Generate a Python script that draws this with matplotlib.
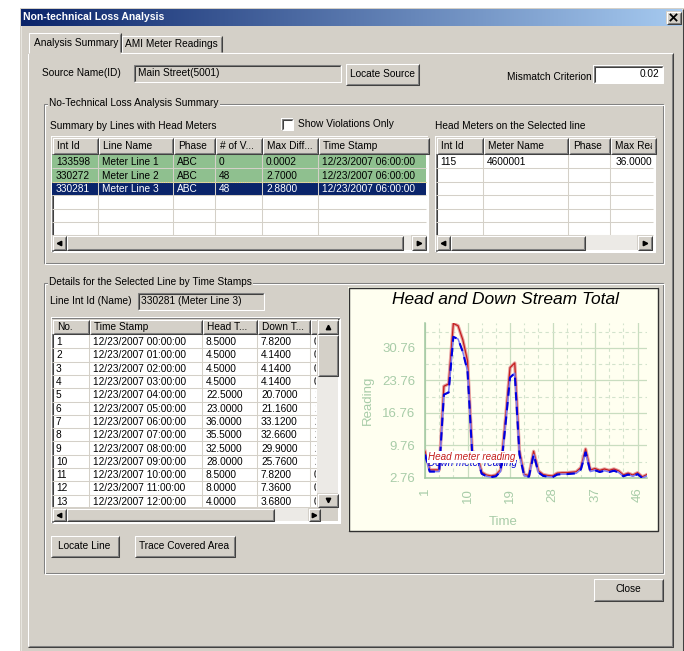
import numpy as np
import matplotlib.pyplot as plt
from matplotlib.patches import Rectangle
from matplotlib.colors import LinearSegmentedColormap

plt.rcParams['font.family'] = ['Liberation Sans', 'DejaVu Sans']

# --- summary by lines with head meters ---
summary_cols = ['Int Id', 'Line Name', 'Phase', '# of V...', 'Max Diff...', 'Time Stamp']
line_ids = ['133598', '330272', '330281']
line_names = ['Meter Line 1', 'Meter Line 2', 'Meter Line 3']
line_phase = ['ABC', 'ABC', 'ABC']
line_violations = [0, 48, 48]
line_max_diff = [0.0002, 2.7, 2.88]
line_stamp = ['12/23/2007 06:00:00', '12/23/2007 06:00:00', '12/23/2007 06:00:00']

# --- head meters on the selected line ---
meter_cols = ['Int Id', 'Meter Name', 'Phase', 'Max Reading']
meter_rows = [['115', '4600001', '', '36.0000']]

# --- hourly totals for the selected line (48 readings) ---
detail_cols = ['No.', 'Time Stamp', 'Head T...', 'Down T...', 'Difference']
head_total = [8.5, 4.5, 4.5, 4.5, 22.5, 23.0, 36.0, 35.5, 32.5, 28.0,
              8.5, 8.0, 4.0, 3.4, 3.2, 3.4, 4.5, 15.0, 26.5, 27.5,
              8.5, 3.5, 3.3, 8.5, 4.3, 3.5, 3.3, 3.2, 3.8, 3.9,
              3.9, 4.0, 4.1, 5.0, 9.0, 4.5, 4.8, 4.4, 4.7, 4.4,
              4.7, 4.3, 3.4, 3.8, 3.4, 3.9, 3.0, 3.5]
down_total = [7.82, 4.14, 4.14, 4.14, 20.70, 21.16, 33.12, 32.66, 29.90, 25.76,
              7.82, 7.36, 3.68, 3.13, 2.94, 3.13, 4.14, 13.80, 24.38, 25.30,
              7.82, 3.22, 3.04, 7.82, 3.96, 3.22, 3.04, 2.94, 3.50, 3.59,
              3.59, 3.68, 3.77, 4.60, 8.28, 4.14, 4.42, 4.05, 4.32, 4.05,
              4.32, 3.96, 3.13, 3.50, 3.13, 3.59, 2.76, 3.22]
x_ticks = [1, 10, 19, 28, 37, 46]
y_ticks = [2.76, 9.76, 16.76, 23.76, 30.76]

FACE, HI, SH, DK = '#D4D0C8', '#FFFFFF', '#808080', '#404040'
FS = 7.3
LW = 0.75

fig = plt.figure(figsize=(6.84, 6.51), dpi=100)
ui = fig.add_axes([0, 0, 1, 1])
ui.set_xlim(0, 684)
ui.set_ylim(651, 0)
ui.axis('off')


def line(xs, ys, c, z=3, **kw):
    ui.plot(xs, ys, color=c, lw=LW, solid_capstyle='butt', zorder=z, **kw)


def fill(x0, y0, x1, y1, c, z=2):
    ui.add_patch(Rectangle((x0, y0), x1 - x0, y1 - y0, fc=c, ec='none', zorder=z))


def txt(x, y, s, **kw):
    kw.setdefault('fontsize', FS)
    kw.setdefault('va', 'center')
    kw.setdefault('zorder', 6)
    return ui.text(x, y, s, **kw)


def clipped(t, x0, y0, x1, y1):
    t.set_clip_path(Rectangle((x0, y0), x1 - x0, y1 - y0, transform=ui.transData))
    t.set_clip_on(True)


def raised(x0, y0, x1, y1, label=None, z=2):
    fill(x0, y0, x1, y1, FACE, z)
    line([x0 + .5, x0 + .5, x1 - .5], [y1 - .5, y0 + .5, y0 + .5], HI, z + .1)
    line([x0 + .5, x1 - .5, x1 - .5], [y1 - .5, y1 - .5, y0 + .5], DK, z + .1)
    line([x0 + 1.5, x1 - 1.5, x1 - 1.5], [y1 - 1.5, y1 - 1.5, y0 + 1.5], SH, z + .1)
    if label:
        txt((x0 + x1) / 2, (y0 + y1) / 2, label, ha='center', zorder=z + .2)


def sunken(x0, y0, x1, y1, fc='white', z=2):
    fill(x0, y0, x1, y1, fc, z)
    line([x0 + .5, x0 + .5, x1 - .5], [y1 - .5, y0 + .5, y0 + .5], SH, z + .1)
    line([x0 + 1.5, x0 + 1.5, x1 - 1.5], [y1 - 1.5, y0 + 1.5, y0 + 1.5], DK, z + .1)
    line([x0 + .5, x1 - .5, x1 - .5], [y1 - .5, y1 - .5, y0 + .5], HI, z + .1)


def etched(x0, y0, x1, y1, label):
    ui.add_patch(Rectangle((x0 + .5, y0 + .5), x1 - x0, y1 - y0, fc='none', ec=SH, lw=LW, zorder=3))
    ui.add_patch(Rectangle((x0 + 1.5, y0 + 1.5), x1 - x0, y1 - y0, fc='none', ec=HI, lw=LW, zorder=3))
    txt(x0 + 6, y0, label, zorder=4, bbox=dict(fc=FACE, ec='none', pad=1))


def arrow_btn(x0, y0, x1, y1, mk, z=4):
    raised(x0, y0, x1, y1, z=z)
    ui.plot((x0 + x1) / 2, (y0 + y1) / 2, marker=mk, ms=3.2, color='black', zorder=z + .3)


def hscroll(x0, x1, y0, y1, thumb_end, track_end):
    arrow_btn(x0, y0, x0 + 14, y1, '<')
    raised(x0 + 14, y0, thumb_end, y1, z=4)
    fill(thumb_end, y0, track_end, y1, '#ECEAE6', 4)
    arrow_btn(track_end, y0, x1, y1, '>')


def grid_table(edges, widths, hy0, hy1, cols, rows, row_h, n_rows, fills, colors):
    # widths: full column widths; the last column may run past the visible edge
    right = edges[-1]
    for i, name in enumerate(cols):
        c0 = edges[i]
        c1 = min(c0 + widths[i], right)
        raised(c0, hy0, c1 + (3 if c1 == right else 0), hy1, z=3)
        t = txt(c0 + 5, (hy0 + hy1) / 2 + .5, name, zorder=3.5)
        clipped(t, c0, hy0, c1 - 1, hy1)
    for r in range(n_rows):
        top = hy1 + 1 + r * row_h
        if r < len(fills) and fills[r]:
            fill(edges[0], top, right, top + row_h, fills[r], 2.5)
        line([edges[0], right], [top + row_h, top + row_h], '#D4D0C8', 2.6)
        if r < len(rows):
            for i, val in enumerate(rows[r]):
                c0 = edges[i]
                t = txt(c0 + 4, top + row_h / 2 + .5, val, color=colors[r], zorder=3.5)
                clipped(t, c0, top, min(c0 + widths[i], right) - 1, top + row_h)
    bottom = hy1 + 1 + n_rows * row_h
    for e in edges[1:-1]:
        line([e - .5, e - .5], [hy1, bottom], '#D4D0C8', 2.6)


# ---- window frame ----
fill(20, 8, 684, 651, FACE, 1)
line([20.5, 20.5, 683], [651, 8.5, 8.5], '#E8E6E0', 1.5)
line([682.5, 682.5], [8.5, 651], DK, 1.5)
grad = np.linspace(0, 1, 256).reshape(1, -1)
cmap = LinearSegmentedColormap.from_list('tb', ['#0A246A', '#A6CAF0'])
ui.imshow(grad, extent=[21, 682, 26, 9.5], cmap=cmap, aspect='auto', zorder=1.6)
txt(23, 17.5, 'Non-technical Loss Analysis', color='white', fontweight='bold', fontsize=7.5)
raised(666, 11, 681, 24, z=2)
ui.plot([670.5, 676.5], [14.5, 20.5], color='black', lw=1.3, zorder=3)
ui.plot([670.5, 676.5], [20.5, 14.5], color='black', lw=1.3, zorder=3)
ui.set_xlim(0, 684)
ui.set_ylim(651, 0)

# ---- tab page ----
line([27.5, 27.5, 673], [646, 52.5, 52.5], HI, 2)
line([27.5, 672.5, 672.5], [646.5, 646.5, 52.5], DK, 2)
line([28.5, 671.5, 671.5], [645.5, 645.5, 53.5], SH, 2)
fill(120, 35, 222, 52, FACE, 2)
line([121.5, 121.5, 220], [52, 35.5, 35.5], HI, 2.1)
line([221.5, 221.5], [36, 52], DK, 2.1)
line([220.5, 220.5], [36.5, 52], SH, 2.1)
txt(125, 44, 'AMI Meter Readings', zorder=2.2)
fill(28, 32, 121, 54, FACE, 2.3)
line([28.5, 28.5, 119], [53, 32.5, 32.5], HI, 2.4)
line([120.5, 120.5], [33, 52], DK, 2.4)
line([119.5, 119.5], [33.5, 52], SH, 2.4)
txt(34, 43, 'Analysis Summary', zorder=2.5)

# ---- source row ----
txt(42, 73, 'Source Name(ID)')
sunken(133, 64, 341, 82, fc=FACE)
txt(138, 73, 'Main Street(5001)')
raised(345, 63, 419, 85, 'Locate Source')
txt(507, 77, 'Mismatch Criterion')
sunken(593, 65, 663, 83)
txt(659, 74, '0.02', ha='right')

# ---- summary group ----
etched(43, 103, 662, 262, 'No-Technical Loss Analysis Summary')
txt(50, 126, 'Summary by Lines with Head Meters')
sunken(281, 118, 293, 130)
txt(298, 124, 'Show Violations Only')

summary_rows = [[line_ids[i], line_names[i], line_phase[i], str(line_violations[i]),
                 f'{line_max_diff[i]:.4f}', line_stamp[i]] for i in range(len(line_ids))]
sunken(51, 136, 428, 252)
grid_table([52, 98, 173, 215, 262, 318, 426], [46, 75, 42, 47, 56, 108], 137, 154,
           summary_cols, summary_rows, 13.4, 6, ['#8FC08F', '#8FC08F', '#0A246A'],
           ['black', 'black', 'white'])
line([52, 426], [181.8, 181.8], '#E8D870', 3.7, ls=(0, (1, 1)))
hscroll(52, 426, 235, 250, 403, 411)

txt(435, 126, 'Head Meters on the Selected line')
sunken(435, 136, 655, 252)
grid_table([436, 483, 568, 610, 653], [47, 85, 42, 60], 137, 154, meter_cols,
           [], 13.4, 6, [], ['black'])
for i, val in enumerate(meter_rows[0][:3]):
    txt([436, 483, 568][i] + 4, 162.2, val, zorder=3.5)
txt(652, 162.2, meter_rows[0][3], ha='right', zorder=3.5)
hscroll(436, 652, 235, 250, 585, 637)

# ---- detail group ----
etched(43, 282, 662, 572, 'Details for the Selected Line by Time Stamps')
txt(50, 301, 'Line Int Id (Name)')
sunken(137, 292, 264, 310, fc=FACE)
txt(141, 301, f'{line_ids[2]} ({line_names[2]})')

detail_rows = []
for i in range(13):
    detail_rows.append([str(i + 1), f'12/23/2007 {i:02d}:00:00', f'{head_total[i]:.4f}',
                        f'{down_total[i]:.4f}', f'{head_total[i] - down_total[i]:.4f}'])
sunken(51, 317, 340, 523)
grid_table([52, 89, 202, 257, 310, 317], [37, 113, 55, 53, 60], 319, 334, detail_cols,
           detail_rows, 13.3, 13, [], ['black'] * 13)
fill(317, 319, 338, 521, FACE, 4)
arrow_btn(317, 319, 338, 334, '^')
raised(317, 334, 338, 376, z=4)
fill(317, 376, 338, 493, '#ECEAE6', 4)
arrow_btn(317, 493, 338, 507, 'v')
fill(52, 507, 317, 521, FACE, 4)
hscroll(52, 320, 508, 521, 274, 308)

raised(50, 535, 119, 557, 'Locate Line')
raised(134, 535, 235, 557, 'Trace Covered Area')
raised(593, 578, 663, 601, 'Close')

# ---- chart panel ----
fill(348, 287, 658, 531, '#FFFFF0', 2)
ui.add_patch(Rectangle((348.5, 287.5), 309, 243, fc='none', ec='#303030', lw=1.0, zorder=3))
txt(505, 300, 'Head and Down Stream Total', ha='center', fontsize=12.5, fontstyle='italic')

ax = fig.add_axes([425 / 684, (651 - 478) / 651, 222 / 684, 155 / 651])
ax.set_zorder(5)
ax.patch.set_alpha(0)
t = np.arange(1, len(head_total) + 1)
ax.plot(t, head_total, color='#E5A0A0', lw=2.4, zorder=3)
ax.plot(t, head_total, color='#C41E1E', lw=0.9, zorder=3.1)
ax.plot(t, down_total, color='#7A7AF5', lw=1.1, zorder=3.2)
ax.plot(t, down_total, color='#0000E0', lw=1.5, dashes=(4, 3), zorder=3.3)
ax.set_xlim(1, 48)
ax.set_ylim(2.76, 36.1)
ax.set_xticks(x_ticks)
ax.set_xticklabels([str(v) for v in x_ticks], rotation=90)
ax.set_yticks(y_ticks)
ax.set_yticklabels([f'{v:.2f}' for v in y_ticks])
ax.set_xticks(np.arange(1, 49, 3), minor=True)
ax.set_yticks(np.arange(2.76, 36, 3.5), minor=True)
ax.tick_params(which='both', length=0, colors='#A8CCA8', labelsize=9.5, pad=7)
ax.grid(which='major', color='#C9DDC0', lw=0.9)
ax.grid(which='minor', color='#D3E3CC', lw=0.8, ls=(0, (3, 3)))
for s in ['top', 'right']:
    ax.spines[s].set_visible(False)
for s in ['left', 'bottom']:
    ax.spines[s].set_color('#A0C8A0')
    ax.spines[s].set_linewidth(1.1)
ax.set_ylabel('Reading', color='#A8CCA8', fontsize=9.5)
ax.yaxis.set_label_coords(-0.23, 0.5)
ax.set_xlabel('Time', color='#A8CCA8', fontsize=9.5)
ax.xaxis.set_label_coords(0.35, -0.285)
ax.xaxis.label.set_va('center')
ax.text(0.014, 0.095, 'Down meter reading', transform=ax.transAxes, color='#0000D8',
        fontsize=7.1, fontstyle='italic', va='center', zorder=4)
ax.text(0.014, 0.135, 'Head meter reading', transform=ax.transAxes, color='#C41E1E',
        fontsize=7.1, fontstyle='italic', va='center', zorder=5,
        bbox=dict(fc='white', ec='none', pad=0.6))

fig.savefig('out.png', dpi=100)
